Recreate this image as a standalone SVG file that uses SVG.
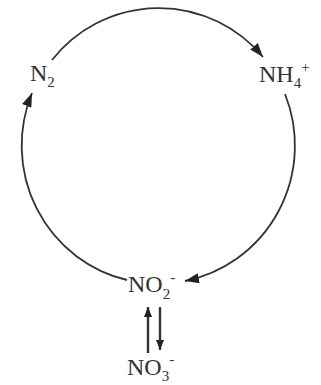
<svg xmlns="http://www.w3.org/2000/svg" width="321" height="385" viewBox="0 0 321 385">
<style>
.lbl{font-family:"Liberation Serif","Times New Roman",serif;font-size:24px;fill:#333}
.sm{font-size:15px}
.arc{fill:none;stroke:#333;stroke-width:1.8}
.vt{fill:none;stroke:#333;stroke-width:2.4}
.mk{fill:#222}
</style>
<defs>
<marker id="ah" viewBox="0 0 14 10" refX="14" refY="5" markerWidth="14" markerHeight="10" orient="auto" markerUnits="userSpaceOnUse"><path class="mk" d="M0,0 L14,5 L0,10 z"/></marker>
<marker id="ah2" viewBox="0 0 10 8" refX="10" refY="4" markerWidth="10" markerHeight="8" orient="auto" markerUnits="userSpaceOnUse"><path class="mk" d="M0,0 L10,4 L0,8 z"/></marker>
</defs>
<rect width="321" height="385" fill="#fff"/>
<g id="connectors">
<path class="arc" d="M52,60 A136.5,138 0 0 1 263,57" marker-end="url(#ah)"/>
<path class="arc" d="M285,94 A136.5,138 0 0 1 185,281" marker-end="url(#ah)"/>
<path class="arc" d="M127,280 A136.5,138 0 0 1 32,93" marker-end="url(#ah)"/>
<line class="vt" x1="148" y1="353" x2="148" y2="307" marker-end="url(#ah2)"/>
<line class="vt" x1="160" y1="307" x2="160" y2="350" marker-end="url(#ah2)"/>
</g>
<g id="N2"><text class="lbl" x="30" y="81">N<tspan class="sm" dy="6">2</tspan></text></g>
<g id="NH4"><text class="lbl" x="259" y="82">NH<tspan class="sm" dy="6">4</tspan><tspan class="sm" dy="-16">+</tspan></text></g>
<g id="NO2"><text class="lbl" x="128" y="292">NO<tspan class="sm" dy="7">2</tspan><tspan class="sm" dy="-17">-</tspan></text></g>
<g id="NO3"><text class="lbl" x="127" y="375">NO<tspan class="sm" dy="6">3</tspan><tspan class="sm" dy="-17">-</tspan></text></g>
</svg>
